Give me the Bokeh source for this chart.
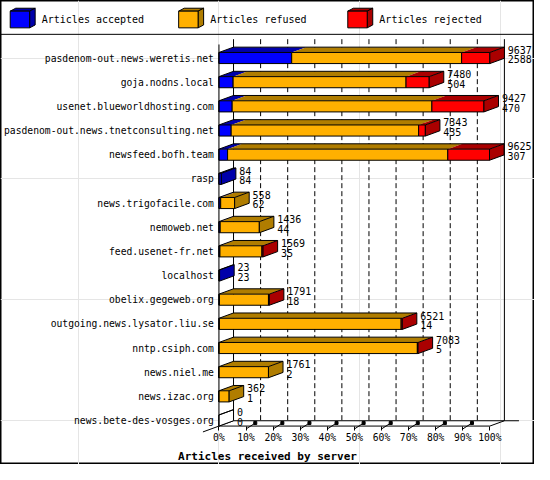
from bokeh.plotting import figure
from bokeh.models import Range1d, FixedTicker, Span, LinearAxis, CustomJSTickFormatter
from bokeh.embed import file_html
from bokeh.resources import INLINE
from bokeh.core.properties import value

# ---------------- data ----------------
servers = [
    "pasdenom-out.news.weretis.net",
    "goja.nodns.local",
    "usenet.blueworldhosting.com",
    "pasdenom-out.news.tnetconsulting.net",
    "newsfeed.bofh.team",
    "rasp",
    "news.trigofacile.com",
    "nemoweb.net",
    "feed.usenet-fr.net",
    "localhost",
    "obelix.gegeweb.org",
    "outgoing.news.lysator.liu.se",
    "nntp.csiph.com",
    "news.niel.me",
    "news.izac.org",
    "news.bete-des-vosges.org",
]
accepted = [2588, 504, 470, 435, 307, 84, 62, 44, 35, 23, 18, 14, 5, 2, 1, 0]
refused = [6045, 6152, 7105, 6669, 7834, 0, 496, 1392, 1494, 0, 1743, 6467, 7053, 1759, 361, 0]
rejected = [1004, 824, 1852, 239, 1484, 0, 0, 0, 40, 0, 30, 40, 25, 0, 0, 0]
series_names = ["Articles accepted", "Articles refused", "Articles rejected"]
tick_labels = ["0%", "10%", "20%", "30%", "40%", "50%", "60%", "70%", "80%", "90%", "100%"]
x_title = "Articles received by server"

# ---------------- style ----------------
FONT = "DejaVu Sans Mono"
front_colors = ["#0000FF", "#FFB000", "#FF0000"]
dark_colors = ["#0000AA", "#B07D00", "#AA0000"]

# layout, in pixels of the 550x480 picture
REF_W, REF_H = 550.0, 480.0
X0, XW = 225.0, 279.0        # front 0% position and width of 100%
Y0, YS = 59.5, 25.0          # first row centre and row pitch
DEPTH_X, DEPTH_Y = 15.0, 5.5  # 3D depth offset
HALF = 5.75                  # half bar height

N = len(servers)
totals = [a + b + c for a, b, c in zip(accepted, refused, rejected)]
M = max(totals)


def X(px):
    return (px - X0) / XW * M


def Y(py):
    return (py - Y0) / YS


def dX(px):
    return px / XW * M


def dY(py):
    return py / YS


DXc, DYr, H = dX(DEPTH_X), dY(DEPTH_Y), dY(HALF)

p = figure(width=534, height=464,
           x_range=Range1d(X(0), X(REF_W)), y_range=Range1d(Y(REF_H), Y(0)),
           output_backend="svg", toolbar_location=None,
           x_axis_location=None, y_axis_location=None, min_border=0,
           outline_line_color="black", outline_line_width=2,
           background_fill_color="white", border_fill_color="white")

# ---------------- walls & grid ----------------
ff = (N - 1) + H          # front floor
fb = ff - DYr             # back floor
top_back = Y(40)

grid_x = [k * M / 10 + DXc for k in range(1, 10)]
p.segment(x0=grid_x, y0=[top_back] * 9, x1=grid_x, y1=[fb] * 9,
          line_color="black", line_width=1, line_dash="5 3")
p.segment(x0=[DXc, M + DXc, 0], y0=[top_back, top_back, top_back + DYr],
          x1=[DXc, M + DXc, 0], y1=[fb, fb, ff], line_color="black", line_width=1)
p.line(x=[0, M, M + DXc, M + 2 * DXc], y=[ff, ff, fb, fb], line_color="black", line_width=1)
p.line(x=[DXc, DXc - 2.1 * DXc, ], y=[fb, fb + 2.1 * DYr], line_color="black", line_width=1)
p.line(x=[DXc, M + DXc], y=[fb, fb], line_color="black", line_width=1)

# little depth marks at the ticks
tk = [k * M / 10 for k in range(1, 10)]
p.segment(x0=tk, y0=[ff + dY(3)] * 9, x1=[t + dX(8.5) for t in tk], y1=[ff - dY(2.5)] * 9,
          line_color="black", line_width=1)
p.scatter(x=[t + dX(9.5) for t in tk], y=[ff - dY(3.2)] * 9, marker="square", size=3,
          fill_color="black", line_color="black")

# ---------------- bars ----------------
top_xs, top_ys, top_c = [], [], []
fl, fr, fbt, ftp, fc = [], [], [], [], []
side_xs, side_ys, side_c = [], [], []
out_xs, out_ys = [], []
lab_x, lab_y1, lab_y2, lab_t1, lab_t2 = [], [], [], [], []
for r in range(N):
    segs = [accepted[r], refused[r], rejected[r]]
    c0 = 0
    last = None
    for k, v in enumerate(segs):
        if v > 0:
            c1 = c0 + v
            top_xs.append([c0, c1, c1 + DXc, c0 + DXc])
            top_ys.append([r - H, r - H, r - H - DYr, r - H - DYr])
            top_c.append(dark_colors[k])
            fl.append(c0); fr.append(c1); fbt.append(r + H); ftp.append(r - H)
            fc.append(front_colors[k])
            last = k
            c0 = c1
    ce = c0
    side_xs.append([ce, ce + DXc, ce + DXc, ce])
    side_ys.append([r - H, r - H - DYr, r + H - DYr, r + H])
    side_c.append(dark_colors[last] if last is not None else "white")
    out_xs.append([0, DXc, ce + DXc])
    out_ys.append([r - H, r - H - DYr, r - H - DYr])
    lab_x.append(ce + DXc + dX(3.5))
    lab_y1.append(r - dY(8.5)); lab_y2.append(r + dY(1.5))
    lab_t1.append(str(totals[r])); lab_t2.append(str(accepted[r]))

p.patches(xs=top_xs, ys=top_ys, fill_color=top_c, line_color=None)
p.quad(left=fl, right=fr, bottom=fbt, top=ftp, fill_color=fc, line_color="black", line_width=1)
p.patches(xs=side_xs, ys=side_ys, fill_color=side_c, line_color="black", line_width=1)
p.multi_line(xs=out_xs, ys=out_ys, line_color="black", line_width=1)
p.segment(x0=[0] * N, y0=[r - H for r in range(N)], x1=[0] * N, y1=[r + H for r in range(N)],
          line_color="black", line_width=1)

p.text(x=lab_x, y=lab_y1, text=lab_t1, text_font=value(FONT), text_font_size="10px",
       text_baseline="middle", text_align="left", text_color="black")
p.text(x=lab_x, y=lab_y2, text=lab_t2, text_font=value(FONT), text_font_size="10px",
       text_baseline="middle", text_align="left", text_color="black")

# ---------------- axes ----------------
yax = LinearAxis(fixed_location=0, ticker=FixedTicker(ticks=list(range(N))),
                 major_label_overrides={i: s for i, s in enumerate(servers)})
yax.axis_line_color = None
yax.major_tick_line_color = None
yax.minor_tick_line_color = None
yax.major_tick_out = 0
yax.major_tick_in = 0
yax.major_label_standoff = 5
yax.major_label_text_font = FONT
yax.major_label_text_font_size = "9.7px"
yax.major_label_text_color = "black"
p.add_layout(yax, "left")

xax = LinearAxis(fixed_location=ff, ticker=FixedTicker(ticks=[k * M / 10 for k in range(11)]),
                 formatter=CustomJSTickFormatter(args=dict(labels=tick_labels, m=M),
                                                 code="return labels[Math.round(tick * 10 / m)]"))
xax.axis_line_color = None
xax.minor_tick_line_color = None
xax.major_tick_line_color = "black"
xax.major_tick_out = 4
xax.major_tick_in = 0
xax.major_label_standoff = 2
xax.major_label_text_font = FONT
xax.major_label_text_font_size = "9.7px"
xax.major_label_text_color = "black"
xax.axis_label = x_title
xax.axis_label_text_font = FONT
xax.axis_label_text_font_style = "bold"
xax.axis_label_text_font_size = "11px"
xax.axis_label_text_color = "black"
xax.axis_label_standoff = 3
p.add_layout(xax, "below")

# ---------------- legend ----------------
p.add_layout(Span(location=Y(35), dimension="width", line_color="black", line_width=1))
leg_x = [10.0, 183.5, 357.7]
lf_l, lf_r, lt_xs, lt_ys, ls_xs, ls_ys = [], [], [], [], [], []
for bx in leg_x:
    lf_l.append(X(bx)); lf_r.append(X(bx + 20))
    lt_xs.append([X(bx), X(bx + 20), X(bx + 25.7), X(bx + 5.7)])
    lt_ys.append([Y(11), Y(11), Y(8), Y(8)])
    ls_xs.append([X(bx + 20), X(bx + 25.7), X(bx + 25.7), X(bx + 20)])
    ls_ys.append([Y(11), Y(8), Y(25.3), Y(28.3)])
p.patches(xs=lt_xs, ys=lt_ys, fill_color=dark_colors, line_color="black", line_width=1)
p.patches(xs=ls_xs, ys=ls_ys, fill_color=dark_colors, line_color="black", line_width=1)
p.quad(left=lf_l, right=lf_r, top=[Y(11)] * 3, bottom=[Y(28.3)] * 3,
       fill_color=front_colors, line_color="black", line_width=1)
p.text(x=[X(bx + 32.5) for bx in leg_x], y=[Y(19.5)] * 3, text=series_names,
       text_font=value(FONT), text_font_size="10px", text_baseline="middle",
       text_align="left", text_color="black")

open("out.html", "w").write(file_html(p, INLINE))
